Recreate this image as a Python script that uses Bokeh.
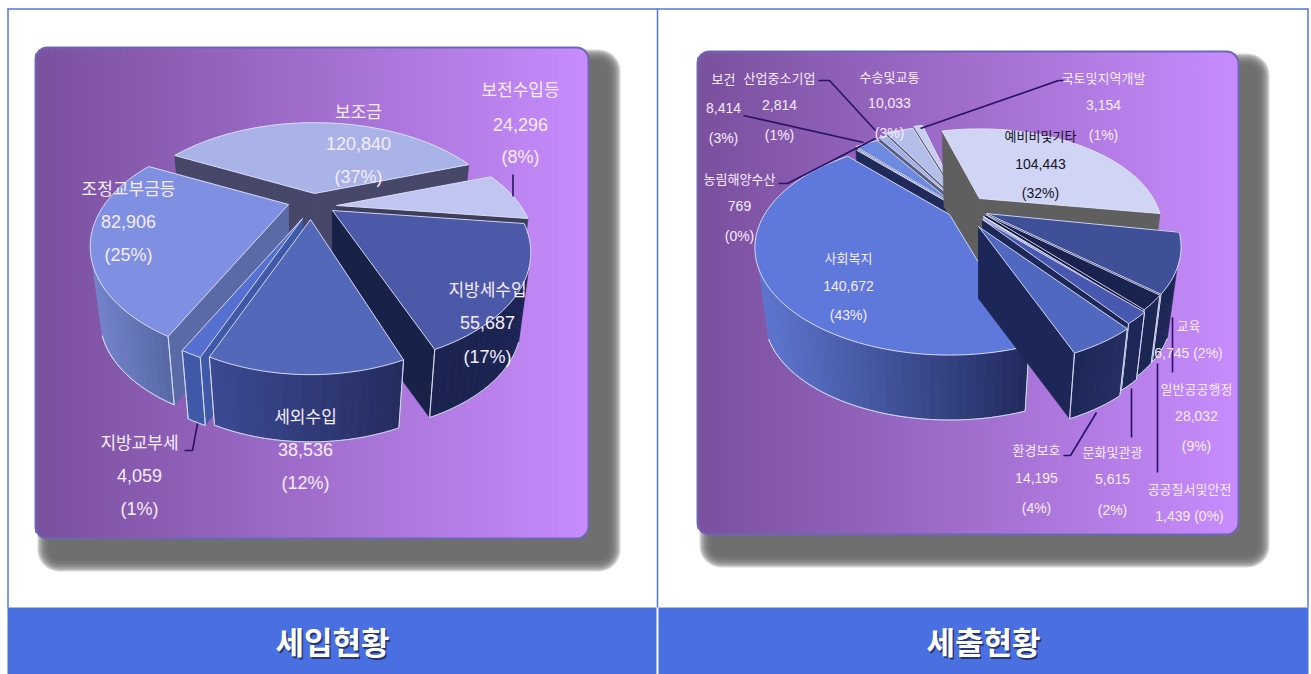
import math
from bokeh.plotting import figure
from bokeh.models import Range1d, ColumnDataSource
from bokeh.core.properties import value
from bokeh.embed import file_html
from bokeh.resources import INLINE

# ---------- data ----------
in_names = ["보조금", "보전수입등", "지방세수입", "세외수입", "지방교부세", "조정교부금등"]
in_values = [120840, 24296, 55687, 38536, 4059, 82906]
in_pct = ["37%", "8%", "17%", "12%", "1%", "25%"]

out_names = ["예비비및기타", "일반공공행정", "교육", "공공질서및안전", "문화및관광", "환경보호",
             "사회복지", "농림해양수산", "보건", "산업중소기업", "수송및교통", "국토및지역개발"]
out_values = [104443, 28032, 6745, 1439, 5615, 14195, 140672, 769, 8414, 2814, 10033, 3154]
out_pct = ["32%", "9%", "2%", "0%", "2%", "4%", "43%", "0%", "3%", "1%", "3%", "1%"]

titles = ["세입현황", "세출현황"]

# ---------- style / layout ----------
KR = "Noto Sans CJK KR"
NUM = "Liberation Sans"
p = figure(width=1311, height=674, x_range=Range1d(0, 1311), y_range=Range1d(674, 0),
           x_axis_type=None, y_axis_type=None, toolbar_location=None,
           output_backend="svg", min_border=0, outline_line_color=None,
           background_fill_color="white", border_fill_color="white")

def hex2(c):
    c = c.lstrip("#")
    return [int(c[i:i + 2], 16) for i in (0, 2, 4)]

def mix(a, b, t):
    t = max(0, min(1, t))
    A, B = hex2(a), hex2(b)
    return "#%02x%02x%02x" % tuple(int(round(A[i] + (B[i] - A[i]) * t)) for i in range(3))

def rr_path(x0, y0, x1, y1, r, n=8):
    xs, ys = [], []
    for cx, cy, a0 in [(x1 - r, y0 + r, -90), (x1 - r, y1 - r, 0), (x0 + r, y1 - r, 90), (x0 + r, y0 + r, 180)]:
        for i in range(n + 1):
            a = math.radians(a0 + 90 * i / n)
            xs.append(cx + r * math.cos(a))
            ys.append(cy + r * math.sin(a))
    return xs, ys

def panel(x0, y0, x1, y1, sx, sy):
    # blurred drop shadow, which starts at the panel's own top and left
    layers = 9
    for i in range(layers):
        g = (layers - 1 - i) * 1.5 - 6
        xs, ys = rr_path(x0 + 8 - g, y0 + 8 - g, x1 + sx + g, y1 + sy + g, 16 + g)
        p.patch(xs, ys, fill_color="#6a6a6a", fill_alpha=0.3, line_color=None)
    r = 12
    L, R, T, B, C = [], [], [], [], []
    step = 3
    x = x0
    while x < x1:
        xe = min(x + step, x1)
        xm = (x + xe) / 2
        ins = 0
        if xm < x0 + r:
            d = x0 + r - xm
            ins = r - math.sqrt(max(r * r - d * d, 0))
        elif xm > x1 - r:
            d = xm - (x1 - r)
            ins = r - math.sqrt(max(r * r - d * d, 0))
        L.append(x); R.append(xe); T.append(y0 + ins); B.append(y1 - ins)
        t = (xm - x0) / (x1 - x0)
        C.append(mix("#7a4f9e", "#c88cff", t))
        x = xe
    p.quad(left=L, right=R, top=T, bottom=B, fill_color=C, line_color=C, line_width=0.6)
    xs, ys = rr_path(x0, y0, x1, y1, r)
    p.patch(xs, ys, fill_color=None, line_color="#6a68b4", line_width=2)

class Pie:
    def __init__(s, rx, a, k, depth, shrink):
        s.rx, s.a, s.k, s.depth, s.shrink = rx, a, k, depth, shrink
    def top(s, th):
        u, v = math.sin(th), -math.cos(th)
        w = 1 - s.k * v
        return s.rx * u / w, s.a * v / w
    def low(s, X, Y):
        return s.shrink * X, s.shrink * Y + s.depth

def draw_pie(pie, vals, start_deg, placing, styles):
    total = float(sum(vals))
    spans = []
    a = math.radians(start_deg)
    for v in vals:
        b = a + v / total * 2 * math.pi
        spans.append((a, b))
        a = b
    order = sorted(range(len(vals)), key=lambda i: -math.cos((spans[i][0] + spans[i][1]) / 2))
    X, Y, F, L, W = [], [], [], [], []
    def add(xs, ys, f, l=None, w=0.6):
        X.append(xs); Y.append(ys); F.append(f); L.append(l if l else f); W.append(w)
    EDGE = "#dfe2fb"
    for i in order:
        a0, a1 = spans[i]
        ax, ay, scx, scy, dth = placing[i]
        a0 += math.radians(dth); a1 += math.radians(dth)
        top_c, rad_c, arc_l, arc_r = styles[i]
        n = max(3, int((a1 - a0) / math.radians(2)))
        ths = [a0 + (a1 - a0) * j / n for j in range(n + 1)]
        tops = [(pie.top(t)[0] * scx, pie.top(t)[1] * scy) for t in ths]
        lows = [pie.low(*q) for q in tops]
        alow = pie.low(0, 0)
        for q, l in ((tops[0], lows[0]), (tops[-1], lows[-1])):
            add([ax, ax + q[0], ax + l[0], ax + alow[0]], [ay, ay + q[1], ay + l[1], ay + alow[1]], rad_c)
        xmin, xmax = min(q[0] for q in tops), max(q[0] for q in tops)
        arcx, arcy = [], []
        for j in range(n):
            if -math.cos(ths[j]) < 0.5 and -math.cos(ths[j + 1]) < 0.5:
                continue
            t = ((tops[j][0] + tops[j + 1][0]) / 2 - xmin) / max(xmax - xmin, 1)
            col = mix(arc_l, arc_r, t)
            add([ax + tops[j][0], ax + tops[j + 1][0], ax + lows[j + 1][0], ax + lows[j][0]],
                [ay + tops[j][1], ay + tops[j + 1][1], ay + lows[j + 1][1], ay + lows[j][1]], col)
            if not arcx:
                arcx.append(ax + lows[j][0]); arcy.append(ay + lows[j][1])
            arcx.append(ax + lows[j + 1][0]); arcy.append(ay + lows[j + 1][1])
        if arcx:
            add(arcx + arcx[::-1], arcy + arcy[::-1], "#00000000", EDGE, 0.7)
            for q, l, th in ((tops[0], lows[0], a0), (tops[-1], lows[-1], a1)):
                if -math.cos(th) > 0.45:
                    add([ax + q[0], ax + l[0]], [ay + q[1], ay + l[1]], "#00000000", EDGE, 0.8)
        add([ax] + [ax + q[0] for q in tops], [ay] + [ay + q[1] for q in tops], top_c, "#e4e6fc", 0.9)
    p.patches(xs="x", ys="y", fill_color="f", line_color="l", line_width="w",
              source=ColumnDataSource(dict(x=X, y=Y, f=F, l=L, w=W)))

# frame and title bands
FR = "#4f76e4"
BAND = "#4a6fe0"
p.quad(left=[7, 658], right=[656, 1308], top=[607, 607], bottom=[674, 674],
       fill_color=BAND, line_color=None)
p.line([7, 1308], [8.5, 8.5], line_color=FR, line_width=1.5)
p.line([7.5, 7.5], [8, 607], line_color=FR, line_width=1.5)
p.line([657, 657], [8, 607], line_color=FR, line_width=1.5)
p.line([1307.5, 1307.5], [8, 607], line_color=FR, line_width=1.5)

panel(35, 47, 588, 538, 26, 27)
panel(697, 51, 1238, 534, 25, 27)

# left pie
left_pie = Pie(184, 97.3, 0.373, 75, 0.95)
left_place = [(314, 193, 1, 1, 0), (336, 205, 1, 1, 0), (332, 210, 1, 1, 0), (310, 219, 0.95, 1, 1),
              (302, 218, 1, 1, 0), (288, 204, 1, 1, 0)]
left_style = [
    ("#a9b3e8", "#47476a", "#47476a", "#47476a"),
    ("#c0c6f1", "#3e3e5a", "#3e3e5a", "#3e3e5a"),
    ("#4b59a8", "#182148", "#1b2350", "#1a2452"),
    ("#5468ba", "#2e3870", "#3b4a94", "#252c5e"),
    ("#5570d0", "#4058a8", "#4058a8", "#4058a8"),
    ("#7f90e2", "#5a6aa6", "#7585cf", "#5668a4"),
]
draw_pie(left_pie, in_values, -62.8, left_place, left_style)

# right pie
right_pie = Pie(185, 97, 0.31, 72, 0.95)
right_place = [(979, 198, 0.94, 0.94, -1.5), (986, 213, 1, 1, 0), (985, 214, 1, 1, 0), (983, 216, 1, 1, 0),
               (982, 219, 1, 1, -3), (978, 226, 1, 1, -4), (949, 214, 1, 1, 0), (958, 208, 1, 1, 0),
               (955, 205, 1, 1, 0), (957, 202, 1, 1, 0), (957, 199, 1, 1, 0), (958, 197, 1, 1, 0)]
right_style = [
    ("#d0d4f5", "#5f5f5f", "#5f5f5f", "#5f5f5f"),
    ("#3f4f98", "#1c2654", "#1c2654", "#1c2654"),
    ("#1a2250", "#141a40", "#1c2654", "#1c2654"),
    ("#8496d0", "#9aa6d8", "#9aa6d8", "#9aa6d8"),
    ("#4858b0", "#1e2858", "#1e2858", "#1e2858"),
    ("#5068c0", "#1d2757", "#1d2757", "#252f62"),
    ("#5f78dc", "#2a3468", "#5f78d2", "#212a5e"),
    ("#8a8fa8", "#1f2a5a", "#1f2a5a", "#1f2a5a"),
    ("#6e8ae0", "#1f2a5a", "#1f2a5a", "#1f2a5a"),
    ("#9fb0e6", "#5a5f80", "#5a5f80", "#5a5f80"),
    ("#b3bfea", "#5a5f80", "#5a5f80", "#5a5f80"),
    ("#c8cef2", "#5a5a6a", "#5a5a6a", "#5a5a6a"),
]
draw_pie(right_pie, out_values, -14.7, right_place, right_style)

# leader lines
LEAD = "#2a1264"
leaders = [
    [(512.5, 174), (512.5, 196)],
    [(184, 450), (192, 450), (197, 423)],
    [(818, 80), (829, 80), (875, 130)],
    [(743, 115), (863, 142)],
    [(778, 183), (787, 183), (875, 138)],
    [(920, 128), (1058, 80), (1063, 80)],
    [(1063, 455), (1070, 455), (1096, 412)],
    [(1131, 388), (1131, 437)],
    [(1157, 363), (1157, 472)],
    [(1172, 317), (1172, 372)],
]
p.multi_line([[q[0] for q in l] for l in leaders], [[q[1] for q in l] for l in leaders],
             line_color=LEAD, line_width=1.6)

def label(x, ys, name, val, pct, size_k, size_n, color="#f6ecff", inline=False):
    p.text([x], [ys[0]], text=[name], text_font=value(KR), text_font_size=f"{size_k}px",
           text_align="center", text_baseline="middle", text_color=color)
    if inline:
        p.text([x], [ys[1]], text=[f"{val:,} ({pct})"], text_font=value(NUM), text_font_size=f"{size_n}px",
               text_align="center", text_baseline="middle", text_color=color)
    else:
        p.text([x], [ys[1]], text=[f"{val:,}"], text_font=value(NUM), text_font_size=f"{size_n}px",
               text_align="center", text_baseline="middle", text_color=color)
        p.text([x], [ys[2]], text=[f"({pct})"], text_font=value(NUM), text_font_size=f"{size_n}px",
               text_align="center", text_baseline="middle", text_color=color)

left_pos = [(358, (110, 143, 176)), (520, (88, 124, 156)), (487, (288, 322, 356)),
            (305, (415, 449, 482)), (139, (441, 475, 508)), (128, (187, 221, 254))]
for i, (x, ys) in enumerate(left_pos):
    label(x, ys, in_names[i], in_values[i], in_pct[i], 17, 18)

right_pos = [(1040, (135, 163, 192)), (1196, (388, 415, 445)), (1188, (325, 352)),
             (1189, (488, 515)), (1112, (451, 478, 509)), (1036, (449, 477, 507)),
             (848, (257, 285, 314)), (739, (178, 205, 235)), (723, (78, 107, 137)),
             (779, (77, 104, 134)), (889, (76, 102, 132)), (1103, (77, 104, 134))]
for i, (x, ys) in enumerate(right_pos):
    col = "#14141e" if i == 0 else "#f6ecff"
    label(x, ys, out_names[i], out_values[i], out_pct[i], 13, 14, col, inline=len(ys) == 2)

# band titles
for x, t in zip((332, 983), titles):
    p.text([x + 1.5], [642], text=[t], text_font=value(KR), text_font_size="31px", text_font_style="bold",
           text_align="center", text_baseline="middle", text_color="#1c2450", text_alpha=0.8)
    p.text([x], [640], text=[t], text_font=value(KR), text_font_size="31px", text_font_style="bold",
           text_align="center", text_baseline="middle", text_color="white")

open("out.html", "w").write(file_html(p, INLINE))
